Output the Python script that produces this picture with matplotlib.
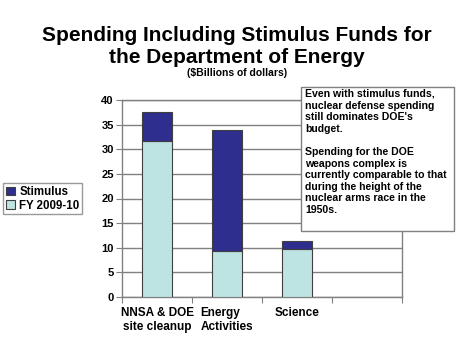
import matplotlib
matplotlib.use("Agg")
import matplotlib.pyplot as plt
from matplotlib.patches import Rectangle
import numpy as np

# --- data ---
categories = ["NNSA & DOE\nsite cleanup", "Energy\nActivities", "Science"]
fy_2009_10 = [31.6, 9.3, 9.7]
stimulus = [6.0, 24.7, 1.6]
y_ticks = [0, 5, 10, 15, 20, 25, 30, 35, 40]

DARK = "#2e2e8f"
LIGHT = "#bde3e3"
GRID = "#808080"

plt.rcParams['font.family'] = ['Liberation Sans', 'DejaVu Sans']

fig = plt.figure(figsize=(4.74, 3.55), dpi=100)
ax = fig.add_axes([122 / 474, 1 - 297 / 355, 280 / 474, 197 / 355])

x = np.arange(len(categories))
ax.bar(x, fy_2009_10, width=0.42, color=LIGHT, edgecolor="#404040", linewidth=0.8,
       label="FY 2009-10", zorder=3)
ax.bar(x, stimulus, width=0.42, bottom=fy_2009_10, color=DARK, edgecolor="#404040",
       linewidth=0.8, label="Stimulus", zorder=3)

ax.set_xlim(-0.5, 3.5)
ax.set_ylim(0, 40)
ax.set_yticks(y_ticks)
ax.set_yticklabels([str(v) for v in y_ticks], fontsize=8, fontweight="bold")
ax.yaxis.grid(True, color=GRID, linewidth=1.0, zorder=0)
ax.tick_params(axis="y", length=4, width=0.8, color=GRID, pad=2)

ax.set_xticks(x)
ax.set_xticklabels(categories, fontsize=8.5, fontweight="bold", linespacing=1.3)
ax.tick_params(axis="x", length=0, pad=7)
for lbl in ax.get_xticklabels()[1:2]:
    lbl.set_multialignment("left")
ax.set_xticks([-0.5, 0.5, 1.5, 2.5, 3.5], minor=True)
ax.tick_params(axis="x", which="minor", length=4, width=0.8, color=GRID)

for s in ax.spines.values():
    s.set_color(GRID)
    s.set_linewidth(1.0)

# 凡例
handles, labels = ax.get_legend_handles_labels()
leg = fig.legend(handles[::-1], labels[::-1], loc="upper left",
                 bbox_to_anchor=(3 / 474, 1 - 183 / 355),
                 prop={"weight": "bold", "size": 8.3}, frameon=True,
                 fancybox=False, borderpad=0.25, handlelength=0.75, handleheight=0.75,
                 handletextpad=0.4, labelspacing=0.15, borderaxespad=0)
leg.get_frame().set_edgecolor(GRID)
leg.get_frame().set_linewidth(1.0)

# タイトル
fig.text(0.5, 1 - 63 / 355, "Spending Including Stimulus Funds for\nthe Department of Energy",
         ha="center", va="baseline", fontsize=15, fontweight="bold", linespacing=1.22)
fig.text(0.5, 1 - 76 / 355, "($Billions of dollars)", ha="center", va="baseline",
         fontsize=7.5, fontweight="bold")

# 注記ボックス
box = Rectangle((301 / 474, 1 - 231 / 355), 153 / 474, 144 / 355,
                transform=fig.transFigure, facecolor="white", edgecolor=GRID,
                linewidth=1.0, zorder=5)
fig.patches.append(box)
note = ("Even with stimulus funds,\nnuclear defense spending\nstill dominates DOE's\nbudget.\n\n"
        "Spending for the DOE\nweapons complex is\ncurrently comparable to that\n"
        "during the height of the\nnuclear arms race in the\n1950s.")
fig.text(305 / 474, 1 - 89 / 355, note, ha="left", va="top", fontsize=7.6,
         fontweight="bold", linespacing=1.2, zorder=6)

fig.savefig("out.png", dpi=100)
